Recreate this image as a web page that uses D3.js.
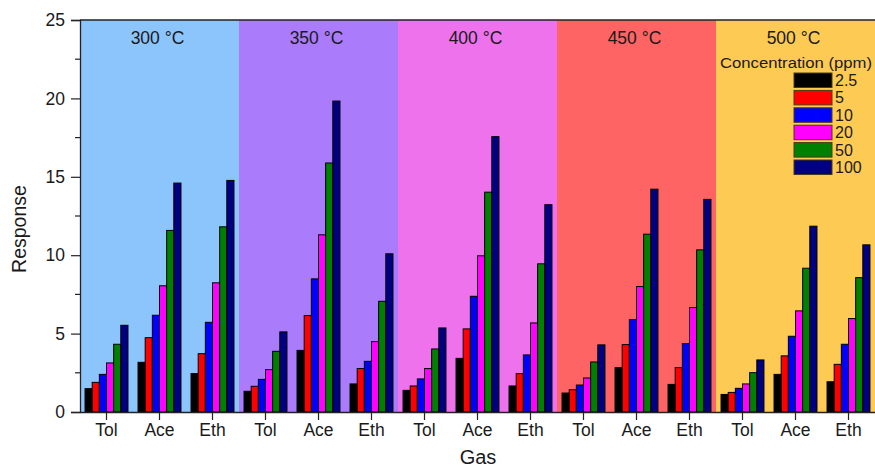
<!DOCTYPE html>
<html>
<head>
<meta charset="utf-8">
<script src="https://cdn.jsdelivr.net/npm/d3@7"></script>
<style>
  html, body { margin: 0; padding: 0; background: #fff; }
  svg { display: block; font-family: "Liberation Sans", Arial, sans-serif; }
</style>
</head>
<body>
<svg id="chart" width="875" height="468"></svg>
<script>
// Operating temperatures, gases and concentrations
const temperatures = ["300 °C", "350 °C", "400 °C", "450 °C", "500 °C"];
const gases = ["Tol", "Ace", "Eth"];
const concentrations = ["2.5", "5", "10", "20", "50", "100"];
const yTicks = [0, 5, 10, 15, 20, 25];

// Response per gas at each concentration (2.5 → 100 ppm), one array per temperature
const resp300 = [
  [1.49, 1.89, 2.40, 3.13, 4.32, 5.53],
  [3.17, 4.74, 6.17, 8.05, 11.58, 14.60],
  [2.45, 3.72, 5.72, 8.24, 11.81, 14.77]
];
const resp350 = [
  [1.32, 1.64, 2.08, 2.70, 3.87, 5.11],
  [3.93, 6.15, 8.49, 11.30, 15.88, 19.83],
  [1.79, 2.77, 3.23, 4.49, 7.06, 10.09]
];
const resp400 = [
  [1.38, 1.66, 2.11, 2.77, 4.02, 5.36],
  [3.42, 5.30, 7.38, 9.96, 14.02, 17.56],
  [1.66, 2.45, 3.64, 5.68, 9.45, 13.22]
];
const resp450 = [
  [1.21, 1.42, 1.72, 2.17, 3.19, 4.28],
  [2.83, 4.30, 5.89, 8.00, 11.34, 14.21],
  [1.76, 2.83, 4.36, 6.66, 10.34, 13.56]
];
const resp500 = [
  [1.12, 1.25, 1.51, 1.79, 2.51, 3.32],
  [2.40, 3.58, 4.83, 6.45, 9.17, 11.85],
  [1.93, 3.04, 4.32, 5.96, 8.57, 10.66]
];
const responses = [resp300, resp350, resp400, resp450, resp500];

const bandColors = ["#8cc4fc", "#aa7bfb", "#ee72ec", "#fe6464", "#fdcb54"];
const barColors = ["#000000", "#ff0000", "#0000ff", "#ff00ff", "#008000", "#000080"];

const svg = d3.select("#chart");
const plotLeft = 80, plotRight = 875, plotTop = 20, plotBottom = 412;
const textColor = "#1a1a1a";
const fontFamily = "Liberation Sans, Arial, sans-serif";

// One group per temperature/gas pair
const groups = [];
temperatures.forEach((t, ti) => gases.forEach((g, gi) => {
  groups.push({ key: t + "|" + g, temp: t, gas: g, values: responses[ti][gi] });
}));

const x0 = d3.scaleBand().domain(groups.map(d => d.key))
  .range([plotLeft, plotRight]).paddingInner(0.19).paddingOuter(0.095);
const x1 = d3.scaleBand().domain(concentrations).range([0, x0.bandwidth()]);
const tempScale = d3.scaleBand().domain(temperatures).range([plotLeft, plotRight]);
const y = d3.scaleLinear().domain([0, 25]).range([plotBottom, plotTop]);

// Temperature backgrounds
svg.append("g").selectAll("rect").data(temperatures).join("rect")
  .attr("x", d => tempScale(d))
  .attr("y", plotTop)
  .attr("width", tempScale.bandwidth())
  .attr("height", plotBottom - plotTop)
  .attr("fill", (d, i) => bandColors[i]);

svg.append("g").selectAll("text").data(temperatures).join("text")
  .attr("x", d => tempScale(d) + tempScale.bandwidth() / 2 - 2)
  .attr("y", 44)
  .attr("text-anchor", "middle")
  .attr("font-size", 17.5)
  .attr("fill", textColor)
  .text(d => d);

// Bars
const gGroups = svg.append("g").selectAll("g").data(groups).join("g")
  .attr("transform", d => `translate(${x0(d.key)},0)`);
gGroups.selectAll("rect")
  .data(d => d.values.map((v, i) => ({ c: concentrations[i], v, i })))
  .join("rect")
  .attr("x", d => x1(d.c))
  .attr("y", d => y(d.v))
  .attr("width", x1.bandwidth())
  .attr("height", d => y(0) - y(d.v))
  .attr("fill", d => barColors[d.i])
  .attr("stroke", "#000")
  .attr("stroke-width", 1);

// Y axis with minor ticks
const yAxis = svg.append("g").attr("transform", `translate(${plotLeft},0)`);
yAxis.call(d3.axisLeft(y).tickValues(yTicks).tickSize(9).tickPadding(6))
  .call(g => g.select(".domain").attr("stroke", "#222").attr("stroke-width", 1.3))
  .call(g => g.selectAll(".tick line").attr("stroke", "#222").attr("stroke-width", 1.2))
  .call(g => g.selectAll(".tick text").attr("font-size", 17.5).attr("fill", textColor)
    .attr("font-family", fontFamily));
yAxis.append("g").selectAll("line").data(d3.range(2.5, 25, 5)).join("line")
  .attr("x1", -5).attr("x2", 0)
  .attr("y1", d => y(d)).attr("y2", d => y(d))
  .attr("stroke", "#222").attr("stroke-width", 1.2);

// X axis
const xAxis = svg.append("g").attr("transform", `translate(0,${plotBottom})`);
xAxis.call(d3.axisBottom(x0).tickFormat(k => k.split("|")[1]).tickSize(8).tickPadding(4).tickSizeOuter(0))
  .call(g => g.select(".domain").attr("stroke", "#222").attr("stroke-width", 1.3))
  .call(g => g.selectAll(".tick line").attr("stroke", "#222").attr("stroke-width", 1.2))
  .call(g => g.selectAll(".tick text").attr("font-size", 17.5).attr("fill", textColor)
    .attr("font-family", fontFamily));

// Top frame line
svg.append("line").attr("x1", plotLeft).attr("x2", plotRight).attr("y1", plotTop).attr("y2", plotTop)
  .attr("stroke", "#222").attr("stroke-width", 1.3);

// Axis titles
svg.append("text").attr("x", 478).attr("y", 464).attr("text-anchor", "middle")
  .attr("font-size", 20).attr("fill", textColor).text("Gas");
svg.append("text").attr("transform", "translate(26,229) rotate(-90)")
  .attr("text-anchor", "middle").attr("font-size", 19.5).attr("fill", textColor).text("Response");

// Legend
const legend = svg.append("g");
legend.append("text").attr("x", 720).attr("y", 68).attr("font-size", 15.5)
  .attr("textLength", 152).attr("lengthAdjust", "spacingAndGlyphs")
  .attr("fill", textColor).text("Concentration (ppm)");
const items = legend.selectAll("g.item").data(concentrations).join("g")
  .attr("class", "item")
  .attr("transform", (d, i) => `translate(794,${73 + i * 17.4})`);
items.append("rect").attr("width", 38).attr("height", 14.5)
  .attr("fill", (d, i) => barColors[i]).attr("stroke", "#4a3a10").attr("stroke-width", 1);
items.append("text").attr("x", 41).attr("y", 13).attr("font-size", 16)
  .attr("fill", textColor).text(d => d);
</script>
</body>
</html>
